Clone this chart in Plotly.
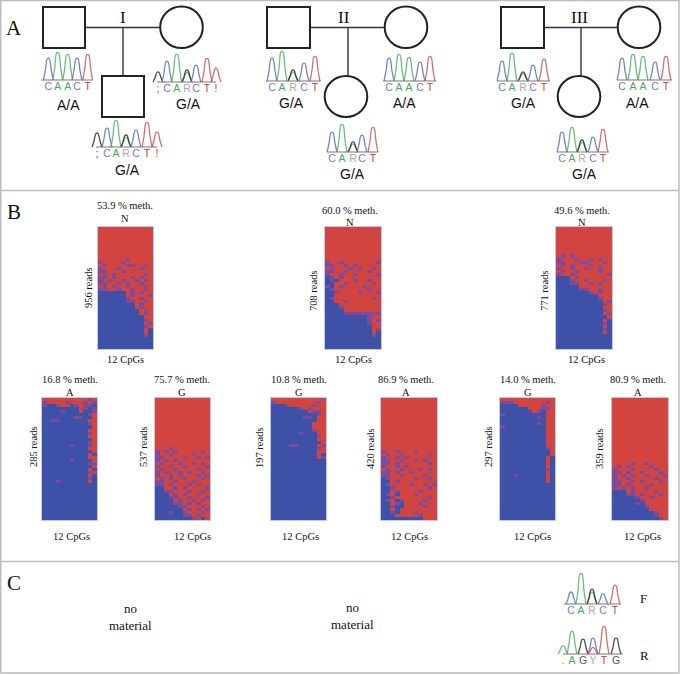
import plotly.graph_objects as go

W, H = 680, 675
RED, BLUE, PURPLE = "#d2443f", "#3f50a8", "#7d4a9c"
SERIF, SANS = "Liberation Serif", "Liberation Sans"
AR = "2" * 12
AB = "0" * 12

# ---- methylation read blocks: each string is one band of reads, 12 CpGs; 0 unmeth, 1 mixed, 2 meth
N1 = [AR] * 10 + ["222222122222", "122221222222", "212222112212", "122212222122", "112221222222",
      "212122222212", "112122212122", "121221221212", "112212122122", "212122122212",
      "112212212212", "000000212122", "000000212221", "000000122122", "000000112212",
      "000000002122", "000000002122", "000000000212", "000000000212", "000000000022",
      "000000000012", "000000000021", "000000000012", "000000000020", "000000000020",
      "000000000010"] + [AB] * 4
N2 = [AR] * 11 + ["122122222221", "112212122222", "212221212212", "112212222122", "122122122221",
      "012122222222", "010222122122", "002212222212", "102122221222", "012222222122",
      "001222212221", "002222222222", "012222222212", "002212222222", "000222222222",
      "000122222222", "000022222222", "000011111111", "000000000122", "000000000121",
      "000000000122", "000000000022", "000000000021", "000000000020", "000000000010"] + [AB] * 4
N3 = [AR] * 9 + ["212122222222", "122212212122", "112221122212", "212122212222", "122122122122",
      "212212222122", "122122222221", "000212222222", "000122122212", "000112212122",
      "000002222222", "000001122122", "000000012122", "000000000222", "000000000122",
      "000000000021", "000000000012", "000000000022", "000000000012", "000000000021",
      "000000000002", "000000000020", "000000000010", "000000000020", "000000000010",
      "000000000020"] + [AB] * 5
L1 = ["222222222212", "122221222121", "100122012110", "000000002101", "000010002001",
      "000000000012", "000000011002", "001100000022", "000000000012", "000000000002",
      "000000000022", "000000000012", "000000000022", "000000000002", "000000000012",
      "000000100012", "000000000022", "000000000002", "000000000020", "000000000022",
      "000000100002", "000000000011", "000000000002", "000000000020", "000000000012",
      "000000000020", "000000000010", "000100000020"] + [AB] * 12
L2 = [AR] * 16 + ["222122222222", "121212222212", "122122221222", "112222122121", "121212222222",
      "212221221212", "122122122221", "212212222122", "121221212212", "122121222121",
      "212122122212", "112212221222", "112122212122", "002212122221", "001122212212",
      "000212122122", "000112212221", "000021221212", "000011212122", "000001122212",
      "000000212121", "000100122212", "000000112122", "000000001202"]
L3 = ["222222222222", "122222222212", "000122222122", "000000121222", "000000002112",
      "000000000012", "000000011022", "000000000022", "000000000222", "000000000222",
      "000000000122", "000000100022", "000000000012", "000000000022", "000000000002",
      "000011000021", "000000000012", "000000000022", "000000000020", "000000000021"] + [AB] * 20
L4 = [AR] * 17 + ["122122212222", "212212222212", "122121222222", "112212212122", "112122222212",
      "122121222222", "212212221212", "112122122222", "112212222122", "012222212212",
      "002122222222", "012222122121", "001222222212", "002122221222", "012022212222",
      "001222222212", "012012222122", "002102221222", "001002222122", "002022222222",
      "001022212222", "000222221222", "000000000222"]
L5 = ["222222222222", "111222222212", "000022222122", "000000222112", "000000021022",
      "100000000022", "000000001022", "000000000022", "000000001022", "100000000022",
      "000000000022", "000000000022", "000000000022", "000000000022", "000000000022",
      "000000000022", "000000000012", "000000000002", "000000000002", "000000000020",
      "000000000020", "000000000020", "000000000020", "000000000010", "000000000020",
      "000100000020", "000000000020", "000000000020"] + [AB] * 12
L6 = [AR] * 21 + ["222212212222", "212122221222", "122212222122", "112122122212", "121212212221",
      "122122222122", "112212122212", "112122221222", "121212212222", "000212222122",
      "000112122212", "000001221222", "000000122222", "000001022222", "000000012222",
      "000000002222", "000000000122", "000000000122", "000000000012"]

PANEL_ROWS = [N1, N2, N3, L1, L2, L3, L4, L5, L6]
PANEL_LEFT = [98, 325, 556, 42, 155, 271, 381, 500, 612]
PANEL_RIGHT = [153, 381, 612, 97, 210, 326, 437, 555, 668]
PANEL_TOP = [227, 227, 227, 398, 398, 398, 398, 398, 398]
PANEL_BOTTOM = [349, 349, 349, 520, 520, 520, 520, 520, 520]

METH_LABELS = ["53.9 % meth.", "60.0 % meth.", "49.6 % meth.", "16.8 % meth.", "75.7 % meth.",
               "10.8 % meth.", "86.9 % meth.", "14.0 % meth.", "80.9 % meth."]
ALLELES = ["N", "N", "N", "A", "G", "G", "A", "G", "A"]
READS = ["956 reads", "708 reads", "771 reads", "285 reads", "537 reads",
         "197 reads", "420 reads", "297 reads", "359 reads"]
METH_X = [125, 350, 582, 70, 182, 299, 406, 528, 638]
METH_Y = [205, 210, 210, 379, 379, 379, 379, 379, 379]
ALLELE_Y = [218, 222, 222, 392, 392, 392, 392, 392, 392]
READS_X = [88, 313, 544, 33, 143, 259, 370, 488, 599]
READS_Y = [288, 291, 291, 447, 447, 448, 449, 447, 449]
CPG_X = [125, 353, 586, 71, 192, 300, 409, 532, 642]
CPG_Y = [359, 359, 359, 536, 536, 536, 536, 536, 536]

# ---- chromatograms: base call, peak x, peak height; "R" = G/A, "Y" = C/T overlap
SEQ = [list("CAACT"), list(";CARCT!"), list(";CARCT!"), list("CARCT"), list("CAACT"),
       list("CARCT"), list("CARCT"), list("CAACT"), list("CARCT"), list("CARCT"), list(".AGYTG")]
PEAK_X = [[48.3, 57.7, 67.7, 77, 87.7], [158, 167, 176.7, 187, 196, 207, 216],
          [97, 107, 116, 126, 136, 147, 157], [272, 282, 293, 304, 315], [389, 399, 409, 420, 430],
          [332, 342, 353, 362, 373], [502, 512, 523, 533, 544], [622, 633, 643, 655, 666],
          [562, 572, 582, 593, 603], [571, 581, 592, 603, 615], [563, 572, 583, 593, 604, 616]]
PEAK_H = [[22, 28, 26, 22, 26], [10, 21, 28, 12, 17, 24, 14], [14, 19, 27, 12, 17, 25, 15],
          [23, 30, 11, 18, 25], [23, 27, 24, 19, 25], [20, 28, 10, 17, 25], [20, 28, 9, 16, 22],
          [22, 26, 24, 18, 24], [20, 25, 12, 15, 23], [12, 31, 15, 10, 19], [8, 23, 15, 16, 28, 16]]
BASELINE = [80, 82, 147, 81, 81, 152, 81, 80, 152, 604, 654]
BASE_LEFT = [41, 157, 96, 266, 383, 327, 497, 617, 557, 564, 563]
BASE_RIGHT = [93, 216, 157, 321, 436, 378, 550, 672, 609, 621, 623]
GENOTYPE = ["A/A", "G/A", "G/A", "G/A", "A/A", "G/A", "G/A", "A/A", "G/A", "", ""]
GENO_X = [68, 188, 127, 291, 404, 352, 523, 637, 584, 0, 0]
GENO_Y = [105, 104, 170, 103, 103, 174, 103, 103, 174, 0, 0]

PEAK_COL = {"C": "#5566bd", "A": "#45b058", "G": "#222222", "T": "#cf4a4a", ";": "#222222", "!": "#cf4a4a", ".": "#45b058"}
LETTER_COL = {"C": "#6f7cc4", "A": "#45a858", "G": "#555555", "T": "#c23c3c", "R": "#a8a8a8", "Y": "#a8a8a8",
              ";": "#555555", "!": "#c23c3c", ".": "#45a858"}
OVERLAP = {"R": [("#45b058", 0.8), ("#222222", 1.0)], "Y": [("#5566bd", 1.0), ("#cf4a4a", 0.4)]}

# ---- pedigrees
SQUARE_X0 = [43, 267, 501]
SQUARE_X1 = [85, 310, 544]
MOTHER_X = [181.5, 406, 639]
DROP_X = [123, 348, 581]
FAMILY_LABEL = ["I", "II", "III"]
LABEL_X = [123, 344, 579]
CHILD_CIRCLE_X = [None, 346, 579]

fig = go.Figure()
# full-page schematic axes
fig.add_trace(go.Scatter(x=[0, W], y=[0, H], mode="markers", marker=dict(opacity=0), hoverinfo="skip", showlegend=False))

for i, rows in enumerate(PANEL_ROWS):
    n = i + 2
    fig.add_trace(go.Heatmap(z=[[int(c) for c in r] for r in rows], xaxis=f"x{n}", yaxis=f"y{n}",
                             zmin=0, zmax=2, showscale=False, hoverinfo="skip",
                             colorscale=[[0, BLUE], [0.5, PURPLE], [1, RED]]))

def peak(c, h, base, col, width=1.3):
    w = 4.9
    fig.add_trace(go.Scatter(x=[c - w, c - w * 0.6, c - w * 0.2, c + w * 0.2, c + w * 0.6, c + w],
                             y=[base, base - h * 0.45, base - h * 0.97, base - h * 0.97, base - h * 0.45, base],
                             mode="lines", line=dict(color=col, width=width, shape="spline", smoothing=0.9),
                             opacity=0.8, hoverinfo="skip", showlegend=False))

for seq, xs, hs, base, x0, x1 in zip(SEQ, PEAK_X, PEAK_H, BASELINE, BASE_LEFT, BASE_RIGHT):
    for s, c, h in zip(seq, xs, hs):
        if s in OVERLAP:
            for col, f in OVERLAP[s]:
                peak(c, h * f, base, col)
        else:
            peak(c, h, base, PEAK_COL[s])
    fig.add_trace(go.Scatter(x=[x0, x1], y=[base, base], mode="lines", line=dict(color="#8a6f70", width=1.2),
                             hoverinfo="skip", showlegend=False))
    fig.add_trace(go.Scatter(x=xs, y=[base + 7] * len(xs), mode="text", text=seq, hoverinfo="skip", showlegend=False,
                             textfont=dict(family=SANS, size=10.5, color=[LETTER_COL[s] for s in seq])))

line = dict(color="#222222", width=2)
thin = dict(color="#333333", width=1.4)
shapes = []
FRAME = dict(color="#bdbdbd", width=1.5)
for y in [0.5, 190.5, 561.5, 673]:
    shapes.append(dict(type="line", x0=0, x1=679, y0=y, y1=y, line=FRAME))
for x in [0.7, 679]:
    shapes.append(dict(type="line", x0=x, x1=x, y0=0, y1=673, line=FRAME))
for k in range(3):
    shapes.append(dict(type="line", x0=SQUARE_X1[k], x1=MOTHER_X[k] - 21, y0=27.5, y1=27.5, line=thin))
    shapes.append(dict(type="line", x0=DROP_X[k], x1=DROP_X[k], y0=27.5, y1=76, line=thin))
    shapes.append(dict(type="rect", x0=SQUARE_X0[k], x1=SQUARE_X1[k], y0=7, y1=48, line=line, fillcolor="white"))
    shapes.append(dict(type="circle", x0=MOTHER_X[k] - 21.3, x1=MOTHER_X[k] + 21.3, y0=6.5, y1=48, line=line, fillcolor="white"))
    if CHILD_CIRCLE_X[k] is None:
        shapes.append(dict(type="rect", x0=102, x1=144, y0=76, y1=117, line=line, fillcolor="white"))
    else:
        cx = CHILD_CIRCLE_X[k]
        shapes.append(dict(type="circle", x0=cx - 21.3, x1=cx + 21.3, y0=76, y1=117, line=line, fillcolor="white"))

ann = []
def text(x, y, s, fam=SERIF, size=10.5, angle=0, color="#111111"):
    ann.append(dict(x=x, y=y, xref="x", yref="y", text=s, showarrow=False, textangle=angle,
                    font=dict(family=fam, size=size, color=color), xanchor="center", yanchor="middle"))

for lab, x, y in zip(["A", "B", "C"], [14, 14, 14], [28, 212, 583]):
    text(x, y, lab, size=21)
for lab, x in zip(FAMILY_LABEL, LABEL_X):
    text(x, 17, lab, size=17)
for g, x, y in zip(GENOTYPE, GENO_X, GENO_Y):
    if g:
        text(x, y, g, fam=SANS, size=14)
for i in range(9):
    text(METH_X[i], METH_Y[i], METH_LABELS[i])
    text(METH_X[i], ALLELE_Y[i], ALLELES[i])
    text(READS_X[i], READS_Y[i], READS[i], angle=-90)
    text(CPG_X[i], CPG_Y[i], "12 CpGs")
for x, y, s in [(130, 608, "no"), (130, 625, "material"), (352, 607, "no"), (352, 624, "material")]:
    text(x, y, s, size=13)
text(643, 598, "F", size=13)
text(644, 655, "R", size=13)

layout = dict(width=W, height=H, margin=dict(l=0, r=0, t=0, b=0), paper_bgcolor="white", plot_bgcolor="rgba(0,0,0,0)",
              showlegend=False, shapes=[dict(s, xref="x", yref="y", layer="above") for s in shapes], annotations=ann,
              xaxis=dict(range=[0, W], domain=[0, 1], visible=False, fixedrange=True),
              yaxis=dict(range=[H, 0], domain=[0, 1], visible=False, fixedrange=True))
for i in range(9):
    n = i + 2
    layout[f"xaxis{n}"] = dict(domain=[PANEL_LEFT[i] / W, PANEL_RIGHT[i] / W], anchor=f"y{n}", showticklabels=False,
                               ticks="", showgrid=False, zeroline=False, showline=True, mirror=True,
                               linecolor="#c3c8e6", linewidth=1)
    layout[f"yaxis{n}"] = dict(domain=[1 - PANEL_BOTTOM[i] / H, 1 - PANEL_TOP[i] / H], anchor=f"x{n}", autorange="reversed",
                               showticklabels=False, ticks="", showgrid=False, zeroline=False, showline=True, mirror=True,
                               linecolor="#c3c8e6", linewidth=1)
fig.update_layout(**layout)
fig.write_html("out.html", config=dict(displayModeBar=False), post_script="document.body.style.margin='0';")
